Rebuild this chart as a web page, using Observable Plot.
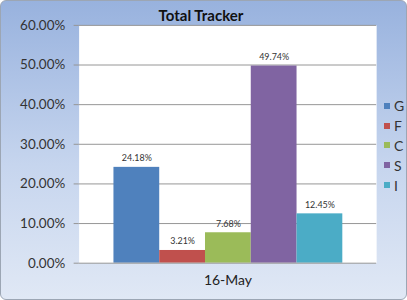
<!DOCTYPE html>
<html><head><meta charset="utf-8">
<script src="https://cdn.jsdelivr.net/npm/d3@7"></script>
<script src="https://cdn.jsdelivr.net/npm/@observablehq/plot@0.6"></script>
<style>
body{margin:0;}
#wrap{position:relative;width:407px;height:300px;box-sizing:border-box;border:1px solid #9ca6b4;border-radius:6px;
background:linear-gradient(#98b2de,#c6d5ee 55%,#e0e8f5);overflow:hidden;font-family:Lato,sans-serif;}
#title{position:absolute;left:0;width:404px;text-align:center;top:5px;font:bold 15px Lato,sans-serif;color:#111;z-index:2;}
#legend{position:absolute;left:383px;top:95px;font:14px Lato,sans-serif;color:#333;z-index:2;}
#legend div{height:19.8px;display:flex;align-items:center;}
#legend i{display:inline-block;width:6px;height:6px;margin-right:4px;}
svg{position:absolute;left:0;top:0;}
</style></head>
<body><div id="wrap"><div id="title"></div><div id="legend"></div></div>
<script>
const title = "Total Tracker";
const categories = ["G","F","C","S","I"];
const values = [24.18, 3.21, 7.68, 49.74, 12.45];
const colors = ["#4f81bd","#c0504d","#9bbb59","#8064a2","#4bacc6"];
const dateLabel = "16-May";
const yTicks = [0,10,20,30,40,50,60];

const data = categories.map((c,i)=>({cat:c, v:values[i]}));
const wrap = document.getElementById("wrap");
document.getElementById("title").innerHTML = `<span style="position:relative;left:-2px">${title}</span>`;
const lg = document.getElementById("legend");
categories.forEach((c,i)=>{const d=document.createElement("div");d.innerHTML=`<i style="background:${colors[i]}"></i>${c}`;lg.appendChild(d);});

const fmt = d => d.toFixed(2) + "%";
const chart = Plot.plot({
  width: 407, height: 300,
  marginLeft: 78, marginRight: 30, marginTop: 24, marginBottom: 37,
  style: {background: "transparent", fontFamily: "Lato,sans-serif", overflow: "visible"},
  x: {domain: categories, paddingInner: 0, paddingOuter: 0.75, axis: null},
  y: {domain: [0,60], ticks: yTicks, tickFormat: fmt, label: null},
  color: {domain: categories, range: colors},
  marks: [
    Plot.frame({fill: "white", stroke: null}),
    Plot.gridY(yTicks.filter(t=>t>0), {stroke: "#959595", strokeOpacity: 1, strokeWidth: 1}),
    Plot.axisY({ticks: yTicks, tickSize: 5, tickPadding: 9, stroke: "#959595", fontSize: 13.5, color: "#333", tickFormat: fmt, label: null}),
    Plot.barY(data, {x: "cat", y: "v", fill: "cat"}),
    Plot.ruleY([0], {stroke: "#959595"}),
    Plot.text(data, {x: "cat", y: "v", text: d => fmt(d.v), dy: -9, fontSize: 9, fill: "#333"}),
    Plot.text([dateLabel], {frameAnchor: "bottom", dy: 22, fontSize: 14, fill: "#222"})
  ]
});
wrap.appendChild(chart);
</script></body></html>
